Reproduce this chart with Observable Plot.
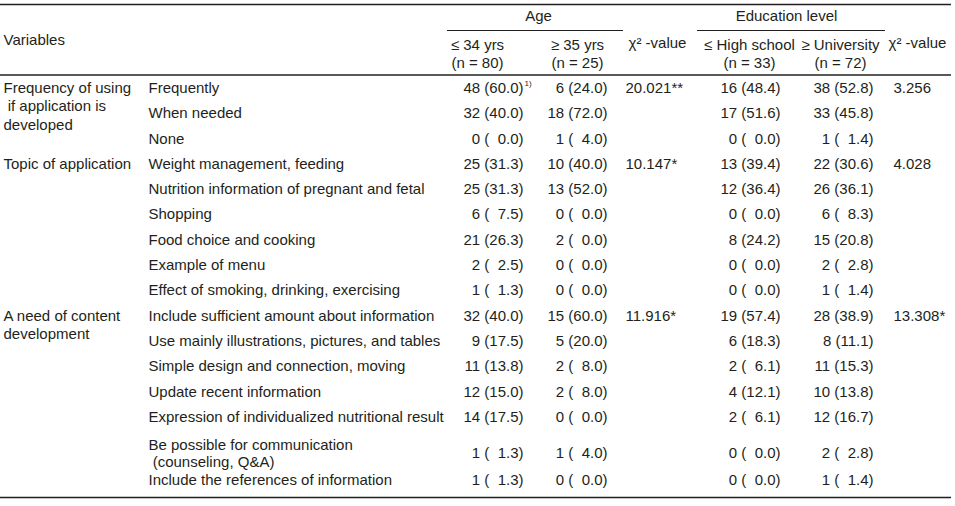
<!DOCTYPE html>
<html><head><meta charset="utf-8">
<script src="https://cdn.jsdelivr.net/npm/d3@7"></script>
<script src="https://cdn.jsdelivr.net/npm/@observablehq/plot@0.6"></script>
<style>body{margin:0;background:#fff}#chart svg{display:block}</style>
</head><body><div id="chart"></div>
<script>
// ---------- data ----------
const stubHeader = "Variables";
const spanners = ["Age", "Education level"];
const subHeaders = ["\u2264 34 yrs", "\u2265 35 yrs", "\u03c7\u00b2 -value", "\u2264 High school", "\u2265 University", "\u03c7\u00b2 -value"];
const nLabels = ["(n = 80)", "(n = 25)", "", "(n = 33)", "(n = 72)", ""];
const groups = ["Frequency of using\n\u00a0if application is\ndeveloped", "Topic of application", "A need of content\ndevelopment"];
const groupSizes = [3, 6, 7];
const items = [
  "Frequently", "When needed", "None",
  "Weight management, feeding", "Nutrition information of pregnant and fetal", "Shopping",
  "Food choice and cooking", "Example of menu", "Effect of smoking, drinking, exercising",
  "Include sufficient amount about information", "Use mainly illustrations, pictures, and tables",
  "Simple design and connection, moving", "Update recent information",
  "Expression of individualized nutritional result",
  "Be possible for communication\n\u00a0(counseling, Q&A)", "Include the references of information"
];
const age34N = [48, 32, 0, 25, 25, 6, 21, 2, 1, 32, 9, 11, 12, 14, 1, 1];
const age34P = [60.0, 40.0, 0.0, 31.3, 31.3, 7.5, 26.3, 2.5, 1.3, 40.0, 17.5, 13.8, 15.0, 17.5, 1.3, 1.3];
const age35N = [6, 18, 1, 10, 13, 0, 2, 0, 0, 15, 5, 2, 2, 0, 1, 0];
const age35P = [24.0, 72.0, 4.0, 40.0, 52.0, 0.0, 0.0, 0.0, 0.0, 60.0, 20.0, 8.0, 8.0, 0.0, 4.0, 0.0];
const hsN = [16, 17, 0, 13, 12, 0, 8, 0, 0, 19, 6, 2, 4, 2, 0, 0];
const hsP = [48.4, 51.6, 0.0, 39.4, 36.4, 0.0, 24.2, 0.0, 0.0, 57.4, 18.3, 6.1, 12.1, 6.1, 0.0, 0.0];
const univN = [38, 33, 1, 22, 26, 6, 15, 2, 1, 28, 8, 11, 10, 12, 2, 1];
const univP = [52.8, 45.8, 1.4, 30.6, 36.1, 8.3, 20.8, 2.8, 1.4, 38.9, 11.1, 15.3, 13.8, 16.7, 2.8, 1.4];
const chiAge = ["20.021**", "10.147*", "11.916*"];
const chiEdu = ["3.256", "4.028", "13.308*"];
const footnote = "1)";

// ---------- layout ----------
const W = 955, H = 506;
const FONT = "Liberation Sans", FS = 15, INK = "#231f20";
const X = {group: 3, item: 148, age34: 523, age35: 607, chiAge: 625, hs: 780, univ: 873, chiEdu: 893};
const subX = [477, 577, 657, 749, 840, 917];
const spanX = [538, 786];
const spanLines = [[447, 623], [697, 885]];
const Y = {top: 4, span: 16, spanLine: 30, sub1: 45, sub2: 63, chi: 43, stub: 40, head: 74.5, bottom: 497};
const rowPitch = 25.3, extraLine = 12.4, lineStep = 17, groupLineStep = 18.5;

const fmt = (n, p) => `${n} (${p < 10 ? "\u2007" : ""}${p.toFixed(1)})`;

// rows with computed positions
let rowTop = Y.head + 0.5;
const rows = items.map((item, i) => {
  const lines = item.split("\n");
  const h = rowPitch + (lines.length - 1) * extraLine;
  const first = rowTop + rowPitch / 2 + (lines.length - 1) * 2.7;
  const r = {i, lines, first, mid: first + (lines.length - 1) * lineStep / 2,
    a34: fmt(age34N[i], age34P[i]), a35: fmt(age35N[i], age35P[i]),
    hs: fmt(hsN[i], hsP[i]), un: fmt(univN[i], univP[i])};
  rowTop += h;
  return r;
});
const itemLines = rows.flatMap(r => r.lines.map((t, k) => ({t, y: r.first + k * lineStep})));
let start = 0;
const groupRows = groups.map((g, gi) => {
  const r = rows[start];
  const o = {g, gi, y: r.first, chiA: chiAge[gi], chiE: chiEdu[gi]};
  start += groupSizes[gi];
  return o;
});
const groupLines = groupRows.flatMap(o => o.g.split("\n").map((t, k) => ({t, y: o.y + k * groupLineStep})));

const hRules = [{y: Y.top}, {y: Y.head}, {y: Y.bottom}];
const spans = spanLines.map(([a, b]) => ({x1: a, x2: b, y: Y.spanLine}));
const subs = subHeaders.map((t, i) => ({t, n: nLabels[i], x: subX[i]}));

const txt = {fontFamily: FONT, fontSize: FS, fill: INK};

const chart = Plot.plot({
  width: W, height: H, margin: 0,
  x: {domain: [0, W], range: [0, W], axis: null},
  y: {domain: [0, H], range: [0, H], axis: null},
  style: {fontFamily: FONT, background: "#fff"},
  marks: [
    Plot.ruleY(hRules, {y: "y", x1: () => 0, x2: () => 951, stroke: INK, strokeWidth: 1.6}),
    Plot.ruleY(spans, {y: "y", x1: "x1", x2: "x2", stroke: INK, strokeWidth: 1}),
    Plot.text([stubHeader], {x: () => X.group, y: () => Y.stub, text: d => d, textAnchor: "start", ...txt}),
    Plot.text(spanners, {x: (d, i) => spanX[i], y: () => Y.span, text: d => d, ...txt}),
    Plot.text(subs, {x: "x", y: d => d.n ? Y.sub1 : Y.chi, text: "t", ...txt}),
    Plot.text(subs.filter(d => d.n), {x: "x", y: () => Y.sub2, text: "n", ...txt}),
    Plot.text(groupLines, {x: () => X.group, y: "y", text: "t", textAnchor: "start", ...txt}),
    Plot.text(itemLines, {x: () => X.item, y: "y", text: "t", textAnchor: "start", ...txt}),
    Plot.text(rows, {x: () => X.age34, y: "mid", text: "a34", textAnchor: "end", ...txt}),
    Plot.text(rows, {x: () => X.age35, y: "mid", text: "a35", textAnchor: "end", ...txt}),
    Plot.text(rows, {x: () => X.hs, y: "mid", text: "hs", textAnchor: "end", ...txt}),
    Plot.text(rows, {x: () => X.univ, y: "mid", text: "un", textAnchor: "end", ...txt}),
    Plot.text(groupRows, {x: () => X.chiAge, y: "y", text: "chiA", textAnchor: "start", ...txt}),
    Plot.text(groupRows, {x: () => X.chiEdu, y: "y", text: "chiE", textAnchor: "start", ...txt}),
    Plot.text([footnote], {x: () => X.age34 + 1, y: () => rows[0].mid - 5, text: d => d, textAnchor: "start", fontFamily: FONT, fontSize: 8, fill: INK})
  ]
});
document.getElementById("chart").appendChild(chart);
</script>
</body></html>
